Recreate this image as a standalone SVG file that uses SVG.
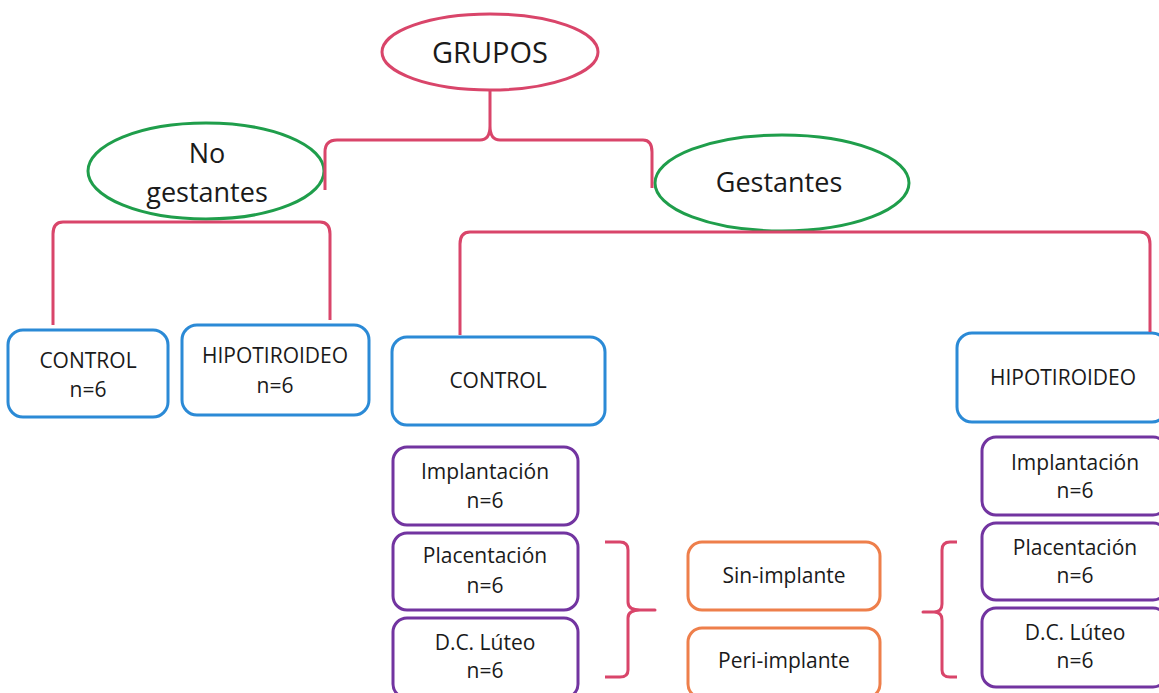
<svg xmlns="http://www.w3.org/2000/svg" width="1159" height="693" viewBox="0 0 1159 693">
<style>
text{font-family:"Open Sans","Noto Sans",sans-serif;fill:#1a1a1a;text-anchor:middle}
.t21{font-size:21px}
.t27{font-size:27px}
.t29{font-size:29px}
.ell-r{fill:#fff;stroke:#d9456a;stroke-width:3}
.ell-g{fill:#fff;stroke:#1f9e4b;stroke-width:3}
.blue{fill:#fff;stroke:#2b8ad6;stroke-width:3}
.purple{fill:#fff;stroke:#7234a0;stroke-width:3}
.orange{fill:#fff;stroke:#ee7f4b;stroke-width:3}
.con{fill:none;stroke:#d9456a;stroke-width:3;stroke-linejoin:round;stroke-linecap:butt}
</style>
<rect width="1159" height="693" fill="#fff"/>
<g id="grupos"><ellipse class="ell-r" cx="490" cy="52" rx="108" ry="38"/><text class="t29" x="490" y="63">GRUPOS</text></g>
<g id="no-gestantes"><ellipse class="ell-g" cx="206" cy="171" rx="118" ry="48"/><text class="t27" x="207" y="163">No</text><text class="t27" x="207" y="202">gestantes</text></g>
<g id="gestantes"><ellipse class="ell-g" cx="782" cy="183" rx="127" ry="48"/><text class="t27" x="779" y="192">Gestantes</text></g>
<g id="ng-control"><rect class="blue" x="8" y="330" width="160" height="87" rx="15"/><text class="t21" x="88" y="368">CONTROL</text><text class="t21" x="88" y="397">n=6</text></g>
<g id="ng-hipo"><rect class="blue" x="182" y="325" width="187" height="90" rx="15"/><text class="t21" x="275" y="363">HIPOTIROIDEO</text><text class="t21" x="275" y="393">n=6</text></g>
<g id="g-control"><rect class="blue" x="392" y="337" width="213" height="88" rx="15"/><text class="t21" x="498" y="388">CONTROL</text></g>
<g id="g-hipo"><rect class="blue" x="957" y="333" width="210" height="89" rx="15"/><text class="t21" x="1063" y="385">HIPOTIROIDEO</text></g>
<g id="c-impl"><rect class="purple" x="393" y="447" width="185" height="78" rx="14"/><text class="t21" x="485" y="479">Implantación</text><text class="t21" x="485" y="508">n=6</text></g>
<g id="c-plac"><rect class="purple" x="393" y="533" width="185" height="77" rx="14"/><text class="t21" x="485" y="563">Placentación</text><text class="t21" x="485" y="593">n=6</text></g>
<g id="c-dcl"><rect class="purple" x="393" y="618" width="185" height="80" rx="14"/><text class="t21" x="485" y="650">D.C. Lúteo</text><text class="t21" x="485" y="678">n=6</text></g>
<g id="h-impl"><rect class="purple" x="982" y="437" width="185" height="78" rx="14"/><text class="t21" x="1075" y="470">Implantación</text><text class="t21" x="1075" y="498">n=6</text></g>
<g id="h-plac"><rect class="purple" x="982" y="523" width="185" height="77" rx="14"/><text class="t21" x="1075" y="555">Placentación</text><text class="t21" x="1075" y="583">n=6</text></g>
<g id="h-dcl"><rect class="purple" x="982" y="608" width="185" height="79" rx="14"/><text class="t21" x="1075" y="640">D.C. Lúteo</text><text class="t21" x="1075" y="668">n=6</text></g>
<g id="sin-implante"><rect class="orange" x="688" y="542" width="192" height="68" rx="14"/><text class="t21" x="784" y="583">Sin-implante</text></g>
<g id="peri-implante"><rect class="orange" x="688" y="628" width="192" height="70" rx="14"/><text class="t21" x="784" y="668">Peri-implante</text></g>
<g id="connectors">
<path class="con" d="M325,190 L325,152 Q325,140 337,140 L480,140 Q490,140 490,126 L490,90 M490,126 Q490,140 500,140 L643,140 Q652,140 652,152 L652,188"/>
<path class="con" d="M53,325 L53,234 Q53,222 63,222 L320,222 Q330,222 330,234 L330,320"/>
<path class="con" d="M460,335 L460,244 Q460,232 470,232 L1140,232 Q1150,232 1150,244 L1150,332"/>
<path class="con" d="M605,542 L620,542 Q628,542 628,550 L628,602 Q628,610 640,610 L655,610 L640,610 Q628,610 628,618 L628,670 Q628,677 620,677 L605,677"/>
<path class="con" d="M957,542 L950,542 Q942,542 942,550 L942,604 Q942,612 934,612 L923,612 L934,612 Q942,612 942,620 L942,670 Q942,677 950,677 L957,677"/>
</g>
</svg>
